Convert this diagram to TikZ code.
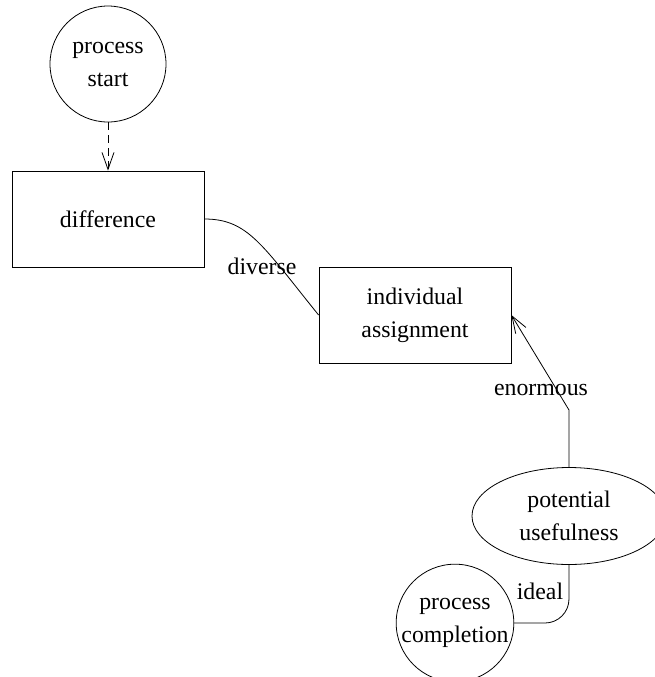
\documentclass[tikz,border=0pt]{standalone}
\usepackage{fontspec}
\setmainfont{Liberation Serif}
\newfontfamily\labelfont{Liberation Serif}
\usepackage{tikz}
\usetikzlibrary{arrows.meta,positioning,shapes.geometric}

\begin{document}
\begin{tikzpicture}[x=0.5pt,y=-0.5pt,
    every node/.style={font=\labelfont\fontsize{11.9}{16.5}\selectfont,align=center},
    roundbox/.style={draw,circle,minimum size=58pt,inner sep=0pt},
    squarebox/.style={draw,rectangle,minimum width=96pt,minimum height=48pt},
    ovalbox/.style={draw,ellipse,minimum width=97pt,minimum height=48.5pt,inner sep=0pt},
    tip/.style={-{Straight Barb[length=8.5pt,width=6pt]}}]
    \useasboundingbox (0,0) rectangle (655,677);

    \node[roundbox] (start) at (108,64) {process\\start};
    \node[squarebox] (difference) at (108,219) {difference};
    \node[squarebox] (assignment) at (415,315) {individual\\assignment};
    \node[ovalbox] (usefulness) at (569,516) {potential\\usefulness};
    \node[roundbox] (completion) at (455,623) {process\\completion};

    \coordinate (bendB) at (569,410);
    \coordinate (bendC) at (569,623);

    \draw[tip,dash pattern=on 4pt off 2.5pt] (start) -- (difference);
    \draw (difference.east) .. controls (248,219) and (262,245) .. (assignment.west);
    \draw[tip] (usefulness.north) -- (bendB) -- (assignment.east);
    \draw[rounded corners=12pt] (usefulness.south) -- (bendC) -- (completion.east);

    \node (diverse) at (262,266) {diverse};
    \node (enormous) at (541,390) {enormous};
    \node (ideal) at (540,591) {ideal};
\end{tikzpicture}
\end{document}
